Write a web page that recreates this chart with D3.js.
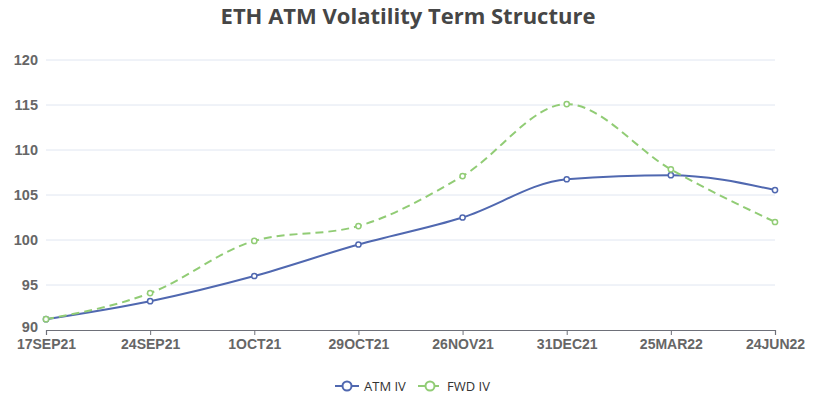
<!DOCTYPE html>
<html>
<head>
<meta charset="utf-8">
<script src="https://cdn.jsdelivr.net/npm/d3@7"></script>
<style>
  body { margin: 0; background: #fff; }
  svg { font-family: "Open Sans", "Noto Sans", sans-serif; }
</style>
</head>
<body>
<div id="chart"></div>
<script>
// Categories and series
var categories = ["17SEP21", "24SEP21", "1OCT21", "29OCT21", "26NOV21", "31DEC21", "25MAR22", "24JUN22"];
var atmIV = [91.2, 93.2, 96.0, 99.5, 102.5, 106.75, 107.2, 105.55];
var fwdIV = [91.2, 94.1, 99.9, 101.55, 107.1, 115.1, 107.85, 102.0];
var yTicks = [90, 95, 100, 105, 110, 115, 120];

document.addEventListener('DOMContentLoaded', function() {
  var W = 816, H = 397;
  var margin = {top: 60, right: 41, bottom: 67, left: 46},
      width = W - margin.left - margin.right,
      height = H - margin.top - margin.bottom;

  var svg = d3.select("#chart")
    .append("svg")
      .attr("width", W)
      .attr("height", H);

  // Title
  svg.append("text")
    .attr("x", W / 2)
    .attr("y", 24)
    .attr("text-anchor", "middle")
    .attr("font-size", 22)
    .attr("font-weight", "bold")
    .attr("fill", "#464646")
    .text("ETH ATM Volatility Term Structure");

  var g = svg.append("g")
    .attr("transform", "translate(" + margin.left + "," + margin.top + ")");

  var x = d3.scalePoint().domain(categories).range([0, width]);
  var y = d3.scaleLinear().domain([90, 120]).range([height, 0]);

  // Grid lines
  g.selectAll("line.grid")
    .data(yTicks.slice(1))
    .enter()
    .append("line")
      .attr("class", "grid")
      .attr("x1", 0)
      .attr("x2", width)
      .attr("y1", function(d) { return y(d); })
      .attr("y2", function(d) { return y(d); })
      .attr("stroke", "#e0e6f1")
      .attr("stroke-width", 1);

  // Y axis labels
  var yAxis = d3.axisLeft(y).tickValues(yTicks).tickSize(0).tickPadding(8);
  var yg = g.append("g").call(yAxis);
  yg.select(".domain").remove();
  yg.selectAll("text")
    .attr("font-size", 14.5)
    .attr("font-weight", "bold")
    .attr("fill", "#666");
  // lift the bottom label a little so it clears the category labels
  yg.selectAll(".tick text").filter(function(d) { return d === 90; }).attr("dy", "0.1em");

  // X axis
  var xAxis = d3.axisBottom(x).tickSize(5).tickPadding(4);
  var xg = g.append("g")
    .attr("transform", "translate(0," + height + ")")
    .call(xAxis);
  xg.select(".domain").attr("stroke", "#6E7079").attr("stroke-width", 1.2);
  xg.selectAll(".tick line").attr("stroke", "#6E7079");
  xg.selectAll("text")
    .attr("font-size", 14)
    .attr("font-weight", "bold")
    .attr("fill", "#666");

  var line = d3.line()
    .x(function(d, i) { return x(categories[i]); })
    .y(function(d) { return y(d); })
    .curve(d3.curveMonotoneX);

  var series = [
    {name: "ATM IV", values: atmIV, color: "#5068b0", dash: null},
    {name: "FWD IV", values: fwdIV, color: "#91cc75", dash: "8,5"}
  ];

  series.forEach(function(s) {
    g.append("path")
      .datum(s.values)
      .attr("fill", "none")
      .attr("stroke", s.color)
      .attr("stroke-width", 2)
      .attr("stroke-dasharray", s.dash)
      .attr("d", line);
  });

  series.forEach(function(s) {
    g.selectAll(null)
      .data(s.values)
      .enter()
      .append("circle")
        .attr("cx", function(d, i) { return x(categories[i]); })
        .attr("cy", function(d) { return y(d); })
        .attr("r", 2.6)
        .attr("fill", "#fff")
        .attr("stroke", s.color)
        .attr("stroke-width", 1.5);
  });

  // Legend
  var legend = svg.append("g").attr("transform", "translate(0,386)");
  var lx = [335, 418];
  series.forEach(function(s, i) {
    var lg = legend.append("g").attr("transform", "translate(" + lx[i] + ",0)");
    lg.append("line")
      .attr("x1", 0).attr("x2", 24)
      .attr("y1", 0).attr("y2", 0)
      .attr("stroke", s.color)
      .attr("stroke-width", 2)
      .attr("stroke-dasharray", s.dash ? "8,5" : null);
    lg.append("circle")
      .attr("cx", 12).attr("cy", 0).attr("r", 4.5)
      .attr("fill", "#fff")
      .attr("stroke", s.color)
      .attr("stroke-width", 2);
    lg.append("text")
      .attr("x", 29)
      .attr("y", 5)
      .attr("font-size", 13)
      .attr("fill", "#333")
      .text(s.name);
  });
});
</script>
</body>
</html>
